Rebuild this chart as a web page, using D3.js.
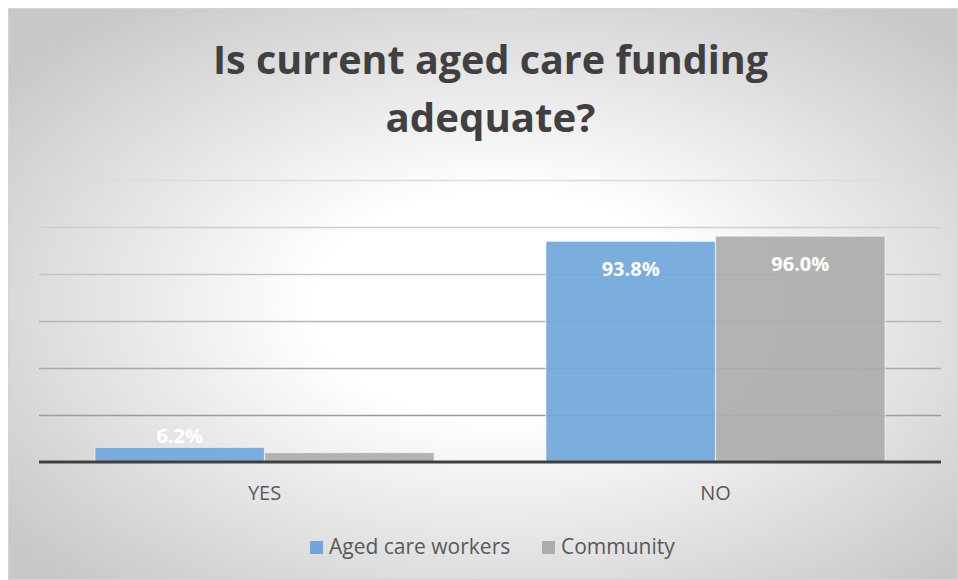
<!DOCTYPE html>
<html>
<head>
<meta charset="utf-8">
<script src="https://cdn.jsdelivr.net/npm/d3@7/dist/d3.min.js"></script>
<style>
  html, body { margin: 0; padding: 0; background: #ffffff; }
  svg { display: block; font-family: "Open Sans", "Noto Sans", sans-serif; }
</style>
</head>
<body>
<svg id="chart" width="958" height="580"></svg>
<script>
// ---- data ----
const categories = ["YES", "NO"];
const seriesNames = ["Aged care workers", "Community"];
const agedCareWorkers = [0.062, 0.938];
const community = [0.040, 0.960];
const dataLabels = [["6.2%", "93.8%"], ["", "96.0%"]];
const gridTicks = [0.2, 0.4, 0.6, 0.8, 1.0, 1.2];
const titleLines = ["Is current aged care funding", "adequate?"];

// ---- setup ----
const W = 958, H = 580;
const svg = d3.select("#chart");
const defs = svg.append("defs");

const rg = defs.append("radialGradient").attr("id", "bg")
  .attr("cx", "52%").attr("cy", "52%").attr("r", "66%");
rg.append("stop").attr("offset", "0%").attr("stop-color", "#ffffff");
rg.append("stop").attr("offset", "30%").attr("stop-color", "#ffffff");
rg.append("stop").attr("offset", "100%").attr("stop-color", "#c8c8c8");

svg.append("rect").attr("x", 8.5).attr("y", 8.5).attr("width", W - 9).attr("height", H - 9)
  .attr("fill", "url(#bg)").attr("stroke", "#d4d4d4").attr("stroke-width", 1);

const left = 39, right = 941, base = 462;
const x = d3.scaleBand().domain(categories).range([left, right]).paddingInner(0.248).paddingOuter(0.124);
const xs = d3.scaleBand().domain(seriesNames).range([0, x.bandwidth()]);
const y = d3.scaleLinear().domain([0, 1.2]).range([base, base - 282.3]);

const colors = { "Aged care workers": "#70a6da", "Community": "#adadad" };
const gridColor = d3.scaleLinear().domain([0.2, 1.2]).range(["#9c9c9c", "#dcdcdc"]);

// gridlines
svg.append("g").selectAll("line").data(gridTicks).join("line")
  .attr("x1", left).attr("x2", right)
  .attr("y1", d => Math.round(y(d)) + 0.5).attr("y2", d => Math.round(y(d)) + 0.5)
  .attr("stroke", d => gridColor(d)).attr("stroke-width", 1.5);

// bars
const series = [agedCareWorkers, community];
const gBars = svg.append("g");
series.forEach((vals, si) => {
  gBars.selectAll(null).data(vals).join("rect")
    .attr("x", (d, i) => x(categories[i]) + xs(seriesNames[si]))
    .attr("y", d => y(d))
    .attr("width", xs.bandwidth())
    .attr("height", d => base - y(d))
    .attr("fill", colors[seriesNames[si]])
    .attr("fill-opacity", 0.92)
    .attr("stroke", "rgba(255,255,255,0.55)")
    .attr("stroke-width", 1.2);
});

// baseline
svg.append("line").attr("x1", left).attr("x2", right).attr("y1", base).attr("y2", base)
  .attr("stroke", "#404040").attr("stroke-width", 3);

// data labels
series.forEach((vals, si) => {
  svg.append("g").selectAll("text").data(vals).join("text")
    .attr("x", (d, i) => x(categories[i]) + xs(seriesNames[si]) + xs.bandwidth() / 2)
    .attr("y", d => (base - y(d)) > 60 ? y(d) + 35 : y(d) - 4)
    .attr("text-anchor", "middle")
    .attr("font-size", 20).attr("font-weight", "bold")
    .attr("fill", "#ffffff")
    .text((d, i) => dataLabels[si][i]);
});

// x axis labels
const xAxis = d3.axisBottom(x).tickSize(0).tickPadding(0);
const gx = svg.append("g").attr("transform", `translate(0,${base})`).call(xAxis);
gx.select(".domain").remove();
gx.selectAll("text").attr("dy", 0).attr("y", 38).attr("font-size", 20)
  .attr("font-family", "Open Sans").attr("fill", "#595959");

// title
svg.append("g").selectAll("text").data(titleLines).join("text")
  .attr("x", 490.5).attr("y", (d, i) => 74 + i * 57.5)
  .attr("text-anchor", "middle")
  .attr("font-size", 40).attr("font-weight", "bold").attr("fill", "#404040")
  .attr("textLength", (d, i) => i === 0 ? 555 : 210)
  .attr("lengthAdjust", "spacingAndGlyphs")
  .text(d => d);

// legend
const legendX = [310, 542];
const lg = svg.append("g");
seriesNames.forEach((name, i) => {
  lg.append("rect").attr("x", legendX[i]).attr("y", 541).attr("width", 13).attr("height", 13)
    .attr("fill", colors[name]);
  lg.append("text").attr("x", legendX[i] + 19).attr("y", 554)
    .attr("font-size", 21).attr("fill", "#595959").text(name);
});
</script>
</body>
</html>
